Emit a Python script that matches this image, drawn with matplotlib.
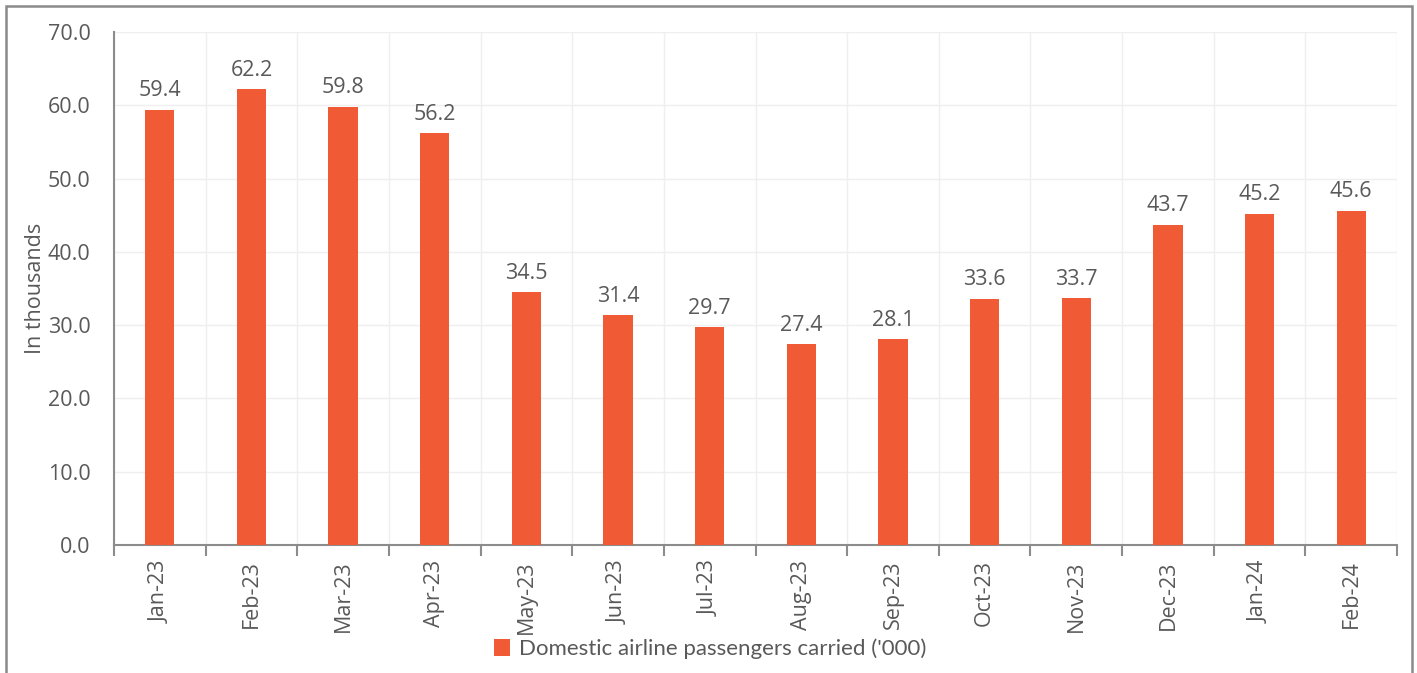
import matplotlib.pyplot as plt
import matplotlib.patches as mpatches
import numpy as np

# data
months = ['Jan-23', 'Feb-23', 'Mar-23', 'Apr-23', 'May-23', 'Jun-23', 'Jul-23',
          'Aug-23', 'Sep-23', 'Oct-23', 'Nov-23', 'Dec-23', 'Jan-24', 'Feb-24']
passengers = [59.4, 62.2, 59.8, 56.2, 34.5, 31.4, 29.7, 27.4, 28.1, 33.6, 33.7,
              43.7, 45.2, 45.6]
yticks = [0, 10, 20, 30, 40, 50, 60, 70]

bar_color = '#F05A35'
txt = '#595959'
fs = 15.5
plt.rcParams['font.family'] = ['Open Sans', 'DejaVu Sans']

fig = plt.figure(figsize=(14.17, 6.73), dpi=100)
ax = fig.add_axes([114 / 1417, 1 - 545 / 673, (1397 - 114) / 1417, (545 - 32) / 673])

x = np.arange(len(months))
ax.bar(x, passengers, width=0.32, color=bar_color, zorder=3,
       label="Domestic airline passengers carried ('000)")
for xi, v in zip(x, passengers):
    ax.annotate('%.1f' % v, (xi, v), xytext=(0, 6), textcoords='offset points',
                ha='center', va='bottom', fontsize=fs, color=txt)

ax.set_xlim(-0.5, len(months) - 0.5)
ax.set_ylim(0, 70)
ax.set_yticks(yticks)
ax.set_yticklabels(['%.1f' % t for t in yticks], fontsize=fs, color=txt)
ax.tick_params(axis='y', length=0, pad=17)

# category boundaries for ticks / gridlines
bounds = np.arange(len(months) + 1) - 0.5
ax.set_xticks(bounds)
ax.set_xticklabels([])
ax.set_xticks(x, minor=True)
ax.set_xticklabels(months, minor=True, rotation=90, fontsize=fs, color=txt)
ax.tick_params(axis='x', which='major', length=8, width=1.5, color='#8c8c8c', direction='out')
ax.tick_params(axis='x', which='minor', length=0, pad=11)

ax.grid(True, which='major', color='#efefef', linewidth=1, zorder=0)
for s in ['top', 'right']:
    ax.spines[s].set_visible(False)
for s in ['left', 'bottom']:
    ax.spines[s].set_color('#8c8c8c')
    ax.spines[s].set_linewidth(1.5)
ax.spines['left'].set_zorder(4)

ax.set_ylabel('In thousands', fontsize=fs, color=txt, labelpad=1)

fig.legend(loc='center', bbox_to_anchor=(710 / 1417, 1 - 649 / 673), frameon=False,
           labelcolor=txt, handlelength=0.75, handleheight=0.75,
           handletextpad=0.4, prop={'family': ['Lato', 'DejaVu Sans'], 'size': 16})

# outer frame of the original chart (cropped at the bottom)
frame = mpatches.Rectangle((6 / 1417, -0.05), (1412 - 6) / 1417, 1.05 - 6 / 673,
                           transform=fig.transFigure, fill=False,
                           edgecolor='#8a8a8a', linewidth=1.8)
fig.patches.append(frame)

fig.savefig('out.png', dpi=100)
